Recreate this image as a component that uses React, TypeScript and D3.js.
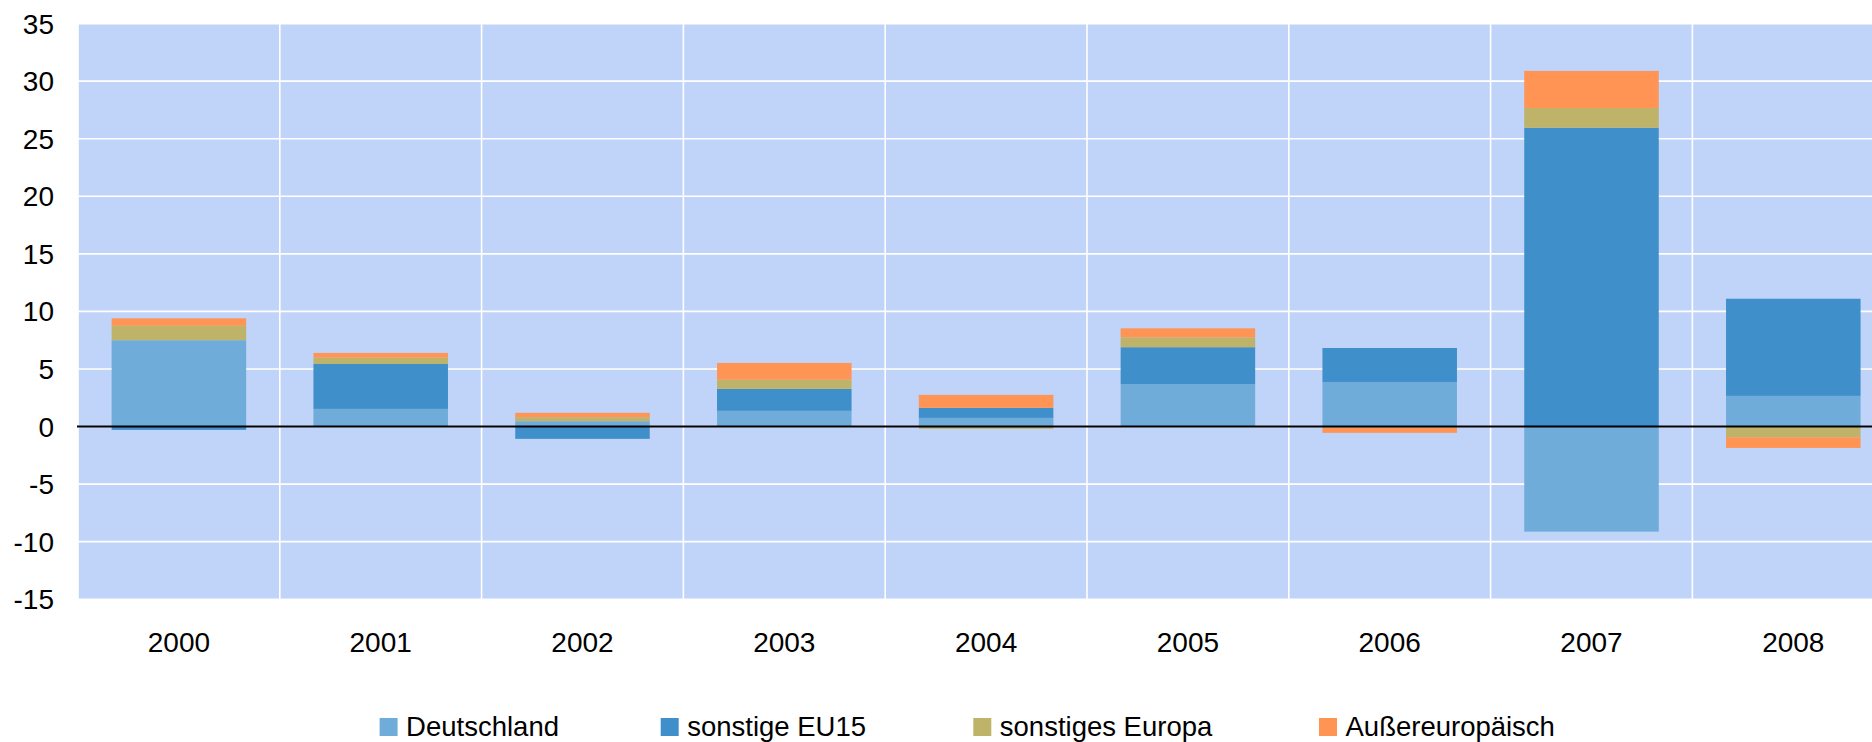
import React from "react";
import * as d3 from "d3";

const years = ["2000", "2001", "2002", "2003", "2004", "2005", "2006", "2007", "2008"];
const seriesNames = ["Deutschland", "sonstige EU15", "sonstiges Europa", "Außereuropäisch"];
const deutschland = [7.5, 1.53, 0.46, 1.36, 0.75, 3.69, 3.87, -9.13, 2.66];
const sonstigeEU15 = [-0.29, 3.9, -1.07, 1.91, 0.87, 3.2, 2.95, 25.95, 8.44];
const sonstigesEuropa = [1.25, 0.55, 0.35, 0.8, -0.2, 0.86, -0.12, 1.72, -0.93];
const aussereuropaeisch = [0.65, 0.41, 0.38, 1.45, 1.13, 0.78, -0.43, 3.22, -0.93];
const yTicks = [35, 30, 25, 20, 15, 10, 5, 0, -5, -10, -15];
const colors = ["#70acda", "#3f8fcb", "#bfb36a", "#ff9455"];

const W = 1872;
const H = 742;
const FONT = "'Liberation Sans', Arial, sans-serif";

export default function App() {
  const plotLeft = 78;
  const step = 201.8;
  const plotRight = plotLeft + step * years.length;
  const yTop = 23.6;
  const yBottom = 599.2;

  const x = d3
    .scaleBand<string>()
    .domain(years)
    .range([plotLeft, plotRight])
    .paddingInner(1 / 3)
    .paddingOuter(1 / 6);
  const y = d3.scaleLinear().domain([-15, 35]).range([yBottom, yTop]);

  const rows = years.map((yr, i) => ({
    year: yr,
    [seriesNames[0]]: deutschland[i],
    [seriesNames[1]]: sonstigeEU15[i],
    [seriesNames[2]]: sonstigesEuropa[i],
    [seriesNames[3]]: aussereuropaeisch[i],
  }));
  const stacked = d3
    .stack<any>()
    .keys(seriesNames)
    .offset(d3.stackOffsetDiverging)(rows);

  const legendSquares = [379.6, 660.7, 973.3, 1319];

  return (
    <svg
      width={W}
      height={H}
      style={{ position: "absolute", left: 0, top: 0, background: "#fff" }}
      fontFamily={FONT}
    >
      <rect x={plotLeft} y={yTop} width={plotRight - plotLeft} height={yBottom - yTop} fill="#c0d3f8" />
      {yTicks.map((t) => (
        <line key={"h" + t} x1={plotLeft} x2={plotRight} y1={y(t)} y2={y(t)} stroke="#ffffff" strokeWidth={1.6} />
      ))}
      {d3.range(years.length + 1).map((k) => (
        <line
          key={"v" + k}
          x1={plotLeft + k * step}
          x2={plotLeft + k * step}
          y1={yTop}
          y2={yBottom}
          stroke="#ffffff"
          strokeWidth={1.6}
        />
      ))}
      {stacked.map((s, si) => (
        <g key={s.key} fill={colors[si]}>
          {s.map((d, i) => {
            const y0 = y(d[0]);
            const y1 = y(d[1]);
            return (
              <rect
                key={i}
                x={x(years[i])}
                width={x.bandwidth()}
                y={Math.min(y0, y1)}
                height={Math.abs(y1 - y0)}
              />
            );
          })}
        </g>
      ))}
      <line x1={plotLeft - 1} x2={plotRight} y1={y(0)} y2={y(0)} stroke="#000" strokeWidth={2} />
      {yTicks.map((t) => (
        <text key={"yl" + t} x={54} y={y(t) + 10} textAnchor="end" fontSize={28} fill="#000">
          {t}
        </text>
      ))}
      {years.map((yr) => (
        <text
          key={"xl" + yr}
          x={(x(yr) as number) + x.bandwidth() / 2}
          y={651.5}
          textAnchor="middle"
          fontSize={28}
          fill="#000"
        >
          {yr}
        </text>
      ))}
      {seriesNames.map((name, i) => (
        <g key={"lg" + name}>
          <rect x={legendSquares[i]} y={718} width={18} height={18} fill={colors[i]} />
          <text x={legendSquares[i] + 26.5} y={735.5} fontSize={27.5} fill="#000">
            {name}
          </text>
        </g>
      ))}
    </svg>
  );
}
